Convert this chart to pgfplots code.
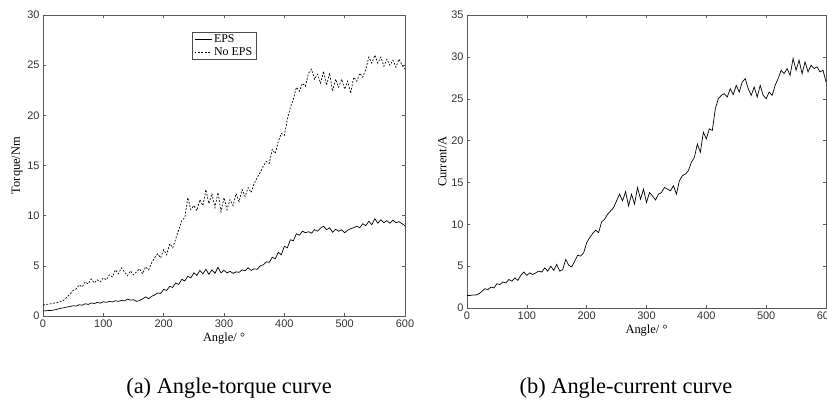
\documentclass[border=0pt]{standalone}
\usepackage{fontspec}
\setmainfont{Liberation Serif}
\newfontfamily\tickfont{Liberation Sans}
\usepackage{pgfplots}
\usepackage{pgfplotstable}
\pgfplotsset{compat=1.18}

% angle (deg) vs torque (Nm), with and without EPS
\pgfplotstableread{
ang eps noeps
0 0.50 1.10
5 0.52 1.15
10 0.55 1.18
15 0.56 1.25
20 0.62 1.30
25 0.70 1.35
30 0.78 1.45
35 0.82 1.60
40 0.90 1.90
45 0.95 2.20
50 1.02 2.55
55 1.00 2.70
60 1.12 3.10
65 1.08 2.90
70 1.22 3.40
75 1.15 3.20
80 1.30 3.70
85 1.25 3.30
90 1.35 3.60
95 1.28 3.40
100 1.42 3.80
105 1.36 3.60
110 1.45 4.10
115 1.40 3.90
120 1.52 4.60
125 1.46 4.20
130 1.55 4.80
135 1.50 4.40
140 1.68 4.00
145 1.58 4.50
150 1.62 4.10
155 1.45 4.40
160 1.55 4.70
165 1.70 4.20
170 1.90 4.90
175 1.72 4.60
180 1.95 5.30
185 2.10 5.80
190 2.30 6.20
195 2.25 5.80
200 2.65 6.60
205 2.55 6.10
210 2.95 7.20
215 2.85 6.80
220 3.30 7.70
225 3.15 8.60
230 3.65 9.50
235 3.50 9.80
240 3.95 11.80
245 3.80 10.60
250 4.30 11.00
255 4.05 10.50
260 4.55 11.60
265 4.20 11.00
270 4.65 12.60
275 4.15 11.20
280 4.60 12.20
285 4.25 10.80
290 4.85 12.30
295 4.30 10.40
300 4.55 11.80
305 4.30 10.60
310 4.45 11.60
315 4.25 11.00
320 4.40 12.20
325 4.35 11.40
330 4.60 12.60
335 4.50 11.90
340 4.80 12.80
345 4.55 12.30
350 4.70 13.20
355 4.65 13.80
360 5.00 14.30
365 5.10 14.90
370 5.40 15.40
375 5.35 15.20
380 5.85 16.60
385 5.70 16.20
390 6.35 17.40
395 6.10 18.20
400 6.95 18.00
405 6.80 19.60
410 7.60 20.80
415 7.50 21.60
420 8.20 22.80
425 8.05 22.40
430 8.45 23.20
435 8.30 22.90
440 8.40 24.20
445 8.25 24.60
450 8.60 23.60
455 8.45 24.10
460 8.75 23.20
465 8.95 24.40
470 8.60 23.00
475 8.80 24.20
480 8.35 22.40
485 8.65 23.60
490 8.45 22.80
495 8.60 23.60
500 8.30 22.60
505 8.55 23.40
510 8.70 22.20
515 8.80 23.80
520 8.95 23.40
525 8.80 24.20
530 9.20 23.80
535 9.00 24.60
540 9.45 25.80
545 9.10 25.20
550 9.70 26.00
555 9.25 25.20
560 9.60 25.80
565 9.30 24.90
570 9.50 25.60
575 9.25 25.00
580 9.55 25.50
585 9.30 24.80
590 9.40 25.60
595 9.20 25.00
600 9.00 24.60
}\torquedata

% angle (deg) vs motor current (A)
\pgfplotstableread{
ang cur
0 1.50
5 1.50
10 1.55
15 1.55
20 1.70
25 2.00
30 2.30
35 2.20
40 2.50
45 2.40
50 2.90
55 2.80
60 3.10
65 3.00
70 3.40
75 3.20
80 3.60
85 3.30
90 3.90
95 4.30
100 3.90
105 4.20
110 4.00
115 4.20
120 4.40
125 4.30
130 4.80
135 4.40
140 5.00
145 4.50
150 5.20
155 4.40
160 4.60
165 5.80
170 5.10
175 4.90
180 5.60
185 6.30
190 6.20
195 6.60
200 7.80
205 8.40
210 8.90
215 9.30
220 9.00
225 10.30
230 10.60
235 11.20
240 11.60
245 12.00
250 12.80
255 13.60
260 12.80
265 13.90
270 12.20
275 13.60
280 12.40
285 14.40
290 13.00
295 14.20
300 12.60
305 13.80
310 13.40
315 12.90
320 13.60
325 13.80
330 14.40
335 14.20
340 14.00
345 14.60
350 13.60
355 15.20
360 15.80
365 16.00
370 16.40
375 17.40
380 18.00
385 19.60
390 18.60
395 21.00
400 20.20
405 21.40
410 21.20
415 23.80
420 25.00
425 25.40
430 25.60
435 25.20
440 26.20
445 25.50
450 26.60
455 25.80
460 27.00
465 27.40
470 26.20
475 25.40
480 26.40
485 25.20
490 26.60
495 25.40
500 25.00
505 25.80
510 25.40
515 26.60
520 27.40
525 28.40
530 28.00
535 28.60
540 27.80
545 29.80
550 28.40
555 29.60
560 28.00
565 29.40
570 28.20
575 29.00
580 28.60
585 28.80
590 28.20
595 28.40
600 27.00
}\currentdata

\pgfplotsset{
  matlab/.style={
    scale only axis,
    anchor=south west,
    xmin=0, xmax=600,
    xtick={0,100,...,600},
    ymin=0,
    tick align=inside,
    major tick length=3bp,
    axis line style={black!65},
    every tick/.style={black!65},
    tick label style={font=\tickfont\fontsize{11}{12}\selectfont, black!80},
    /pgf/number format/assume math mode=true,
    label style={font=\fontsize{12.5}{13}\selectfont},
    xlabel={Angle/ °},
    xlabel style={yshift=1bp},
    ylabel style={yshift=-2bp},
  },
}

\begin{document}
\begin{tikzpicture}
\path[use as bounding box] (0,0) rectangle (827bp,402bp);

\begin{axis}[
    matlab,
    at={(43bp,86bp)},
    width=362bp, height=301bp,
    ymax=30, ytick={0,5,...,30},
    ylabel={Torque/Nm},
    legend style={at={(0.412,0.944)}, anchor=north west,
        font=\fontsize{12}{11}\selectfont, draw=black!70,
        inner xsep=2pt, inner ysep=0.5pt, row sep=-0.5pt, cells={anchor=west}},
    legend image code/.code={\draw[#1] (0bp,0bp) -- (17bp,0bp);},
    legend cell align=left,
]
\addplot[black, line width=0.7pt] table[x=ang, y=eps] {\torquedata};
\addlegendentry{EPS}
\addplot[black, line width=0.7pt, dash pattern=on 1.8bp off 1.6bp] table[x=ang, y=noeps] {\torquedata};
\addlegendentry{No EPS}
\end{axis}

\begin{axis}[
    matlab,
    at={(467bp,94bp)},
    width=359bp, height=293bp,
    ymax=35, ytick={0,5,...,35},
    ylabel={Current/A},
]
\addplot[black, line width=0.7pt] table[x=ang, y=cur] {\currentdata};
\end{axis}

\node[anchor=base, font=\fontsize{22.5}{25}\selectfont] at (229bp,9bp) {(a) Angle-torque curve};
\node[anchor=base, font=\fontsize{22.5}{25}\selectfont] at (626bp,9bp) {(b) Angle-current curve};
\end{tikzpicture}
\end{document}
